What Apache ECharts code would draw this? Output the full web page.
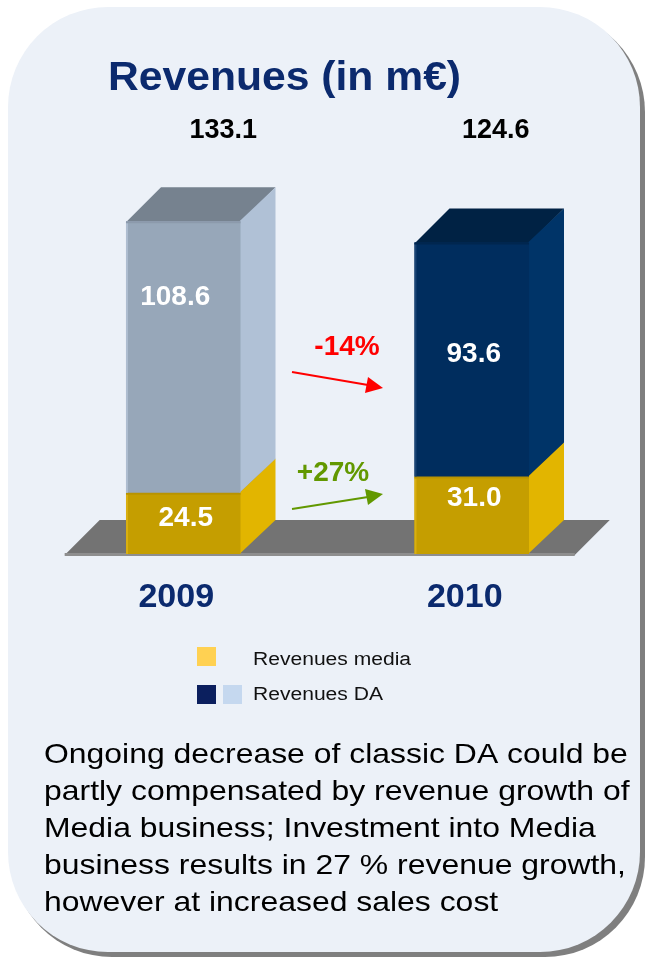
<!DOCTYPE html>
<html>
<head>
<meta charset="utf-8">
<script src="https://cdn.jsdelivr.net/npm/echarts@6/dist/echarts.min.js"></script>
<style>html,body{margin:0;padding:0;background:#fff;}#chart{width:645px;height:960px;}</style>
</head>
<body>
<div id="chart"></div>
<script>
// ---- data ----
const categories = ['2009', '2010'];
const mediaRevenue = [24.5, 31.0];
const daRevenue = [108.6, 93.6];
const totalRevenue = [133.1, 124.6];
const changeLabels = ['-14%', '+27%'];
const legendLabels = ['Revenues media', 'Revenues DA'];
const titleText = 'Revenues (in m€)';
const noteLines = [
  'Ongoing decrease of classic DA could be',
  'partly compensated by revenue growth of',
  'Media business; Investment into Media',
  'business results in 27 % revenue growth,',
  'however at increased sales cost'
];

// ---- styling / layout constants ----
const FONT = "'Liberation Sans', Arial, sans-serif";
const NAVY = '#0B2A6E';
const DEPTH_X = 35, DEPTH_Y = 34;
const BAR_FRAC = 0.397;
const daColors = [
  { front: '#97A7B9', side: '#B0C1D6', top: '#76828F', edge: '#AEBDD0', line: '#8C9AAC' },
  { front: '#002D5E', side: '#003468', top: '#002244', edge: '#1A4474', line: '#00264F' }
];
const mediaColor = { front: '#C59E00', side: '#E2B500', top: '#B08C00', edge: '#D9AF10', line: '#B89300' };
const daLabelOffset = [[-8, 76], [2, 112]];
const mediaLabelOffset = [[2.5, 26], [2.5, 22]];
const totalLabelDx = [40, 24];

function box(api, i, lo, hi, col, label, loff) {
  const pLo = api.coord([i, lo]);
  const pHi = api.coord([i, hi]);
  const band = api.size([1, 0])[0];
  const w = band * BAR_FRAC;
  const L = pLo[0] - w / 2, R = L + w;
  const yb = pLo[1], yt = pHi[1];
  const children = [
    { type: 'polygon', shape: { points: [[L, yt + 1], [R, yt + 1], [R + DEPTH_X, yt - DEPTH_Y], [L + DEPTH_X, yt - DEPTH_Y]] }, style: { fill: col.top } },
    { type: 'polygon', shape: { points: [[R - 1, yb], [R + DEPTH_X, yb - DEPTH_Y], [R + DEPTH_X, yt - DEPTH_Y], [R - 1, yt]] }, style: { fill: col.side } },
    { type: 'rect', shape: { x: L, y: yt, width: w, height: yb - yt }, style: { fill: col.front } },
    { type: 'rect', shape: { x: L, y: yt, width: 2, height: yb - yt }, style: { fill: col.edge } },
    { type: 'rect', shape: { x: L, y: yt, width: w, height: 2 }, style: { fill: col.line } },
    { type: 'text', style: { text: label, x: pLo[0] + loff[0], y: yt + loff[1], fill: '#ffffff', font: 'bold 28px ' + FONT, align: 'center', verticalAlign: 'middle' } }
  ];
  return { children, L, R, yt, cx: pLo[0] };
}

const option = {
  backgroundColor: '#ffffff',
  animation: false,
  grid: { left: 39, right: 29, top: 129, bottom: 406 },
  xAxis: {
    type: 'category',
    data: categories,
    axisLine: { show: false },
    axisTick: { show: false },
    splitLine: { show: false },
    axisLabel: { fontFamily: FONT, fontWeight: 'bold', fontSize: 34, color: NAVY, margin: 27, padding: [0, 14, 0, 0] }
  },
  yAxis: { type: 'value', min: 0, max: 170, show: false },
  series: [
    {
      name: 'floor',
      type: 'custom',
      silent: true,
      data: [[0, 0]],
      encode: { x: 0, y: 1 },
      renderItem: function (params, api) {
        const p0 = api.coord([0, 0]);
        const p1 = api.coord([1, 0]);
        const band = api.size([1, 0])[0];
        const x0 = p0[0] - band * 0.411, x1 = p1[0] + band * 0.357;
        const y = p0[1];
        return {
          type: 'group',
          children: [
            { type: 'polygon', shape: { points: [[x0, y + 1], [x1, y + 1], [x1 + DEPTH_X, y - DEPTH_Y], [x0 + DEPTH_X, y - DEPTH_Y]] }, style: { fill: '#737373' } },
            { type: 'rect', shape: { x: x0, y: y - 1, width: x1 - x0, height: 3 }, style: { fill: '#8E8E8E' } }
          ]
        };
      }
    },
    {
      name: legendLabels[0],
      type: 'custom',
      data: categories.map((c, i) => [i, 0, mediaRevenue[i]]),
      encode: { x: 0, y: [1, 2] },
      renderItem: function (params, api) {
        const i = api.value(0);
        const b = box(api, i, api.value(1), api.value(2), mediaColor, mediaRevenue[i].toFixed(1), mediaLabelOffset[i]);
        return { type: 'group', children: b.children };
      }
    },
    {
      name: legendLabels[1],
      type: 'custom',
      data: categories.map((c, i) => [i, mediaRevenue[i], mediaRevenue[i] + daRevenue[i]]),
      encode: { x: 0, y: [1, 2] },
      renderItem: function (params, api) {
        const i = api.value(0);
        const b = box(api, i, api.value(1), api.value(2), daColors[i], daRevenue[i].toFixed(1), daLabelOffset[i]);
        const yTop = api.coord([i, 170])[1];
        b.children.push({ type: 'text', style: { text: totalRevenue[i].toFixed(1), x: b.cx + totalLabelDx[i], y: yTop + 2, fill: '#000000', font: 'bold 27px ' + FONT, align: 'center', verticalAlign: 'middle' } });
        return { type: 'group', children: b.children };
      }
    }
  ],
  graphic: [
    { type: 'rect', z: -20, shape: { x: 12, y: 12, width: 633, height: 945, r: 100 }, style: { fill: '#7F7F7F' } },
    { type: 'rect', z: -19, shape: { x: 8, y: 7, width: 632, height: 945, r: 100 }, style: { fill: '#ECF1F8' } },
    { type: 'text', z: 5, x: 108, y: 79, scaleX: 1.04, style: { text: titleText, x: 0, y: 0, fill: NAVY, font: 'bold 41px ' + FONT, verticalAlign: 'middle' } },
    // change arrows
    { type: 'polyline', z: 5, shape: { points: [[292, 372], [368, 385]] }, style: { stroke: '#FF0000', lineWidth: 2 } },
    { type: 'polygon', z: 5, shape: { points: [[383, 388], [365, 393], [368, 377]] }, style: { fill: '#FF0000' } },
    { type: 'text', z: 5, x: 347, y: 347, style: { text: changeLabels[0], x: 0, y: 0, fill: '#FF0000', font: 'bold 28px ' + FONT, align: 'center', verticalAlign: 'middle' } },
    { type: 'polyline', z: 5, shape: { points: [[292, 509], [368, 497]] }, style: { stroke: '#629800', lineWidth: 2 } },
    { type: 'polygon', z: 5, shape: { points: [[383, 494], [368, 505], [365, 489]] }, style: { fill: '#629800' } },
    { type: 'text', z: 5, x: 333, y: 473, style: { text: changeLabels[1], x: 0, y: 0, fill: '#629800', font: 'bold 28px ' + FONT, align: 'center', verticalAlign: 'middle' } },
    // legend
    { type: 'rect', z: 5, shape: { x: 197, y: 647, width: 19, height: 19 }, style: { fill: '#FFD152' } },
    { type: 'rect', z: 5, shape: { x: 197, y: 685, width: 19, height: 19 }, style: { fill: '#0B1F5E' } },
    { type: 'rect', z: 5, shape: { x: 223, y: 685, width: 19, height: 19 }, style: { fill: '#C5D8EF' } },
    { type: 'text', z: 5, x: 253, y: 660, scaleX: 1.17, style: { text: legendLabels[0], x: 0, y: 0, fill: '#111111', font: '18px ' + FONT, verticalAlign: 'middle' } },
    { type: 'text', z: 5, x: 253, y: 695, scaleX: 1.17, style: { text: legendLabels[1], x: 0, y: 0, fill: '#111111', font: '18px ' + FONT, verticalAlign: 'middle' } }
  ].concat(noteLines.map((t, k) => ({
    type: 'text', z: 5, x: 44, y: 755 + k * 37, scaleX: 1.14,
    style: { text: t, x: 0, y: 0, fill: '#000000', font: '28px ' + FONT, verticalAlign: 'middle' }
  })))
};

const chart = echarts.init(document.getElementById('chart'), null, { renderer: 'canvas' });
chart.setOption(option);
</script>
</body>
</html>
